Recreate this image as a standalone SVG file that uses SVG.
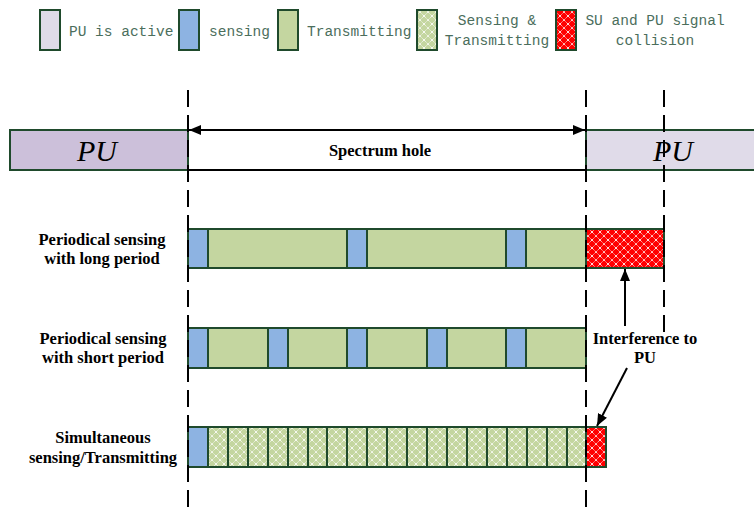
<svg xmlns="http://www.w3.org/2000/svg" width="754" height="507" viewBox="0 0 754 507">
  <defs>
    <pattern id="latticeGreen" width="8" height="8" patternUnits="userSpaceOnUse">
      <rect width="8" height="8" fill="#c4d6a0"/>
      <path d="M0,0 L8,8 M8,0 L0,8" stroke="#ffffff" stroke-width="1" stroke-dasharray="1.2,0.8"/>
    </pattern>
    <pattern id="latticeRed" width="8" height="8" patternUnits="userSpaceOnUse">
      <rect width="8" height="8" fill="#ff0000"/>
      <path d="M0,0 L8,8 M8,0 L0,8" stroke="#ffffff" stroke-width="1" stroke-dasharray="1.2,0.8"/>
    </pattern>
    <marker id="head" viewBox="0 0 12 10" refX="12" refY="5" markerWidth="12" markerHeight="10" markerUnits="userSpaceOnUse" orient="auto-start-reverse">
      <path d="M0,0 L12,5 L0,10 Z" fill="#000"/>
    </marker>
  </defs>
  <style>
    .cell { stroke: #1f4a2c; stroke-width: 2; }
    .pu { fill: #ccc0da; }
    .pu2 { fill: #e0dbe9; }
    .sense { fill: #8db3e2; }
    .tx { fill: #c4d6a0; }
    .stx { fill: url(#latticeGreen); }
    .hit { fill: url(#latticeRed); }
    .legend { font-family: "Liberation Mono", "DejaVu Sans Mono", monospace; font-size: 14.5px; fill: #4b6e5c; }
    .lbl { font-family: "Liberation Serif", "Times New Roman", serif; font-size: 16.5px; font-weight: bold; fill: #000; }
    .big { font-family: "Liberation Serif", "Times New Roman", serif; font-size: 30px; font-style: italic; fill: #000; }
    .dash { stroke: #000; stroke-width: 2; stroke-dasharray: 17,8; fill: none; }
    .arrow { stroke: #000; stroke-width: 2; fill: none; }
  </style>

  <!-- legend -->
  <g id="legend">
    <rect class="cell pu2" x="40" y="10" width="20" height="40"/>
    <text class="legend" x="69" y="36">PU is active</text>
    <rect class="cell sense" x="179" y="10" width="20" height="40"/>
    <text class="legend" x="209" y="36">sensing</text>
    <rect class="cell tx" x="278" y="10" width="20" height="40"/>
    <text class="legend" x="307" y="36">Transmitting</text>
    <rect class="cell stx" x="417" y="10" width="20" height="40"/>
    <text class="legend" x="497" y="25" text-anchor="middle">Sensing &amp;</text>
    <text class="legend" x="497" y="45" text-anchor="middle">Transmitting</text>
    <rect class="cell hit" x="556" y="10" width="20" height="40"/>
    <text class="legend" x="655" y="25" text-anchor="middle">SU and PU signal</text>
    <text class="legend" x="655" y="45" text-anchor="middle">collision</text>
  </g>

  <!-- primary user occupancy -->
  <g id="pu-left">
    <rect class="cell pu" x="10" y="130" width="178" height="40"/>
    <text class="big" x="97" y="161" text-anchor="middle">PU</text>
  </g>
  <g id="pu-right">
    <rect class="cell pu2" x="586" y="130" width="170" height="40"/>
    <text class="big" x="673" y="161" text-anchor="middle">PU</text>
  </g>
  <g id="spectrum-hole">
    <line x1="188" y1="170" x2="586" y2="170" stroke="#000" stroke-width="2"/>
    <text class="lbl" x="380" y="156" text-anchor="middle">Spectrum hole</text>
  </g>

  <!-- row 1: long sensing period -->
  <g id="row-long">
    <text class="lbl" x="102" y="245" text-anchor="middle">Periodical sensing</text>
    <text class="lbl" x="102" y="264" text-anchor="middle">with long period</text>
    <rect class="cell sense" x="188" y="229" width="20" height="39"/>
    <rect class="cell tx" x="208" y="229" width="139" height="39"/>
    <rect class="cell sense" x="347" y="229" width="20" height="39"/>
    <rect class="cell tx" x="367" y="229" width="139" height="39"/>
    <rect class="cell sense" x="506" y="229" width="20" height="39"/>
    <rect class="cell tx" x="526" y="229" width="60" height="39"/>
    <rect class="cell hit" x="586" y="229" width="78" height="39"/>
  </g>

  <!-- row 2: short sensing period -->
  <g id="row-short">
    <text class="lbl" x="103" y="344" text-anchor="middle">Periodical sensing</text>
    <text class="lbl" x="103" y="363" text-anchor="middle">with short period</text>
    <rect class="cell sense" x="188" y="328" width="20" height="40"/>
    <rect class="cell tx" x="208" y="328" width="60" height="40"/>
    <rect class="cell sense" x="268" y="328" width="20" height="40"/>
    <rect class="cell tx" x="288" y="328" width="59" height="40"/>
    <rect class="cell sense" x="347" y="328" width="20" height="40"/>
    <rect class="cell tx" x="367" y="328" width="60" height="40"/>
    <rect class="cell sense" x="427" y="328" width="20" height="40"/>
    <rect class="cell tx" x="447" y="328" width="59" height="40"/>
    <rect class="cell sense" x="506" y="328" width="20" height="40"/>
    <rect class="cell tx" x="526" y="328" width="60" height="40"/>
  </g>

  <!-- row 3: simultaneous sensing and transmitting -->
  <g id="row-simultaneous">
    <text class="lbl" x="103" y="443" text-anchor="middle">Simultaneous</text>
    <text class="lbl" x="103" y="463" text-anchor="middle">sensing/Transmitting</text>
    <rect class="cell sense" x="188" y="427" width="20" height="40"/>
    <rect class="cell stx" x="208" y="427" width="20" height="40"/>
    <rect class="cell stx" x="228" y="427" width="20" height="40"/>
    <rect class="cell stx" x="248" y="427" width="20" height="40"/>
    <rect class="cell stx" x="268" y="427" width="20" height="40"/>
    <rect class="cell stx" x="288" y="427" width="20" height="40"/>
    <rect class="cell stx" x="308" y="427" width="19" height="40"/>
    <rect class="cell stx" x="327" y="427" width="20" height="40"/>
    <rect class="cell stx" x="347" y="427" width="20" height="40"/>
    <rect class="cell stx" x="367" y="427" width="20" height="40"/>
    <rect class="cell stx" x="387" y="427" width="20" height="40"/>
    <rect class="cell stx" x="407" y="427" width="20" height="40"/>
    <rect class="cell stx" x="427" y="427" width="20" height="40"/>
    <rect class="cell stx" x="447" y="427" width="20" height="40"/>
    <rect class="cell stx" x="467" y="427" width="20" height="40"/>
    <rect class="cell stx" x="487" y="427" width="20" height="40"/>
    <rect class="cell stx" x="507" y="427" width="20" height="40"/>
    <rect class="cell stx" x="527" y="427" width="20" height="40"/>
    <rect class="cell stx" x="547" y="427" width="20" height="40"/>
    <rect class="cell stx" x="567" y="427" width="19" height="40"/>
    <rect class="cell hit" x="586" y="427" width="20" height="40"/>
  </g>

  <g id="interference-label">
    <text class="lbl" x="645" y="344" text-anchor="middle">Interference to</text>
    <text class="lbl" x="645" y="363" text-anchor="middle">PU</text>
  </g>

  <!-- time markers and arrows -->
  <g id="connectors">
    <line class="dash" x1="188" y1="90" x2="188" y2="507"/>
    <line class="dash" x1="586" y1="90" x2="586" y2="507"/>
    <line class="dash" x1="664" y1="90" x2="664" y2="332"/>
    <line class="arrow" x1="189" y1="130" x2="585" y2="130" marker-start="url(#head)" marker-end="url(#head)"/>
    <line class="arrow" x1="625" y1="326" x2="625" y2="269" marker-end="url(#head)"/>
    <line class="arrow" x1="627" y1="368" x2="597" y2="426" marker-end="url(#head)"/>
  </g>
</svg>
